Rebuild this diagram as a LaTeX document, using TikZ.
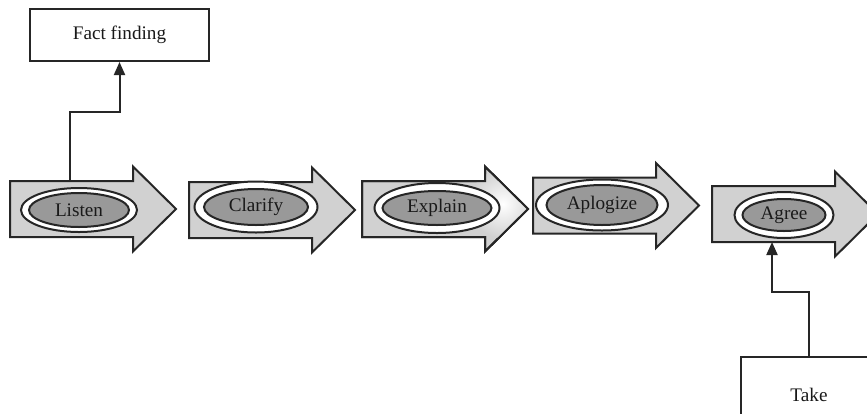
\documentclass[tikz,border=0pt]{standalone}
\usepackage{fontspec}
\setmainfont{Liberation Serif}
\usepackage{tikz}
\usetikzlibrary{shapes.geometric,arrows.meta}

\newcommand{\steppath}[2]{(#1,{#2-28}) -- ({#1+123},{#2-28}) -- ({#1+123},{#2-42.5}) -- ({#1+166},#2) -- ({#1+123},{#2+42.5}) -- ({#1+123},{#2+28}) -- (#1,{#2+28}) -- cycle}

\tikzset{
  flow/.style={fill=black!18, draw=black!85, line width=1pt, line join=miter},
  ring/.style={ellipse, fill=white, draw=black!85, line width=1pt, inner sep=0pt},
  core/.style={ellipse, fill=black!40, draw=black!85, line width=1pt, inner sep=0pt, text=black!90, font=\fontsize{9.6}{11}\selectfont},
  note/.style={rectangle, fill=white, draw=black!85, line width=1pt, text=black!90, font=\fontsize{9.6}{11}\selectfont},
  link/.style={draw=black!85, line width=1pt, -{Triangle[length=6.5pt,width=5.5pt]}}
}

\begin{document}
\begin{tikzpicture}[x=0.5pt, y=-0.5pt]
\useasboundingbox (0,0) rectangle (867,413);
\foreach \x/\y in {10/209, 189/210, 362/209, 533/205.5, 712/214}
  \filldraw[flow] \steppath{\x}{\y};
\begin{scope}
  \clip \steppath{362}{209};
  \shade[inner color=white, outer color=black!18] (503,204) circle (34);
\end{scope}
\draw[flow, fill=none] \steppath{362}{209};
\foreach \n/\t/\cx/\cy/\ow/\oh/\iw/\ih in {listen/Listen/79/210/116/44/100/34, clarify/Clarify/256/207/123/51/104/36, explain/Explain/437/208/125/50/109/34, apologize/Aplogize/602/205/132/51/111/40, agree/Agree/784/215/99/46/83/32}
{
  \node[ring, minimum width={\ow*0.5pt}, minimum height={\oh*0.5pt}] (\n-ring) at (\cx,\cy) {};
  \node[core, minimum width={\iw*0.5pt}, minimum height={\ih*0.5pt}] (\n) at (\cx,\cy) {\t};
}
\coordinate (listen-top) at (70,181);
\coordinate (agree-foot) at (772,242);
\node[note, minimum width=89.5pt, minimum height=26pt] (fact) at (119.5,35) {Fact f{}inding};
\node[note, minimum width=68pt, minimum height=38pt] (take) at (809,395) {Take};
\draw[link] (listen-top) -- ++(0,-69) -| (fact.south);
\draw[link] (take.north) -- ++(0,-64) -| (agree-foot);
\end{tikzpicture}
\end{document}
